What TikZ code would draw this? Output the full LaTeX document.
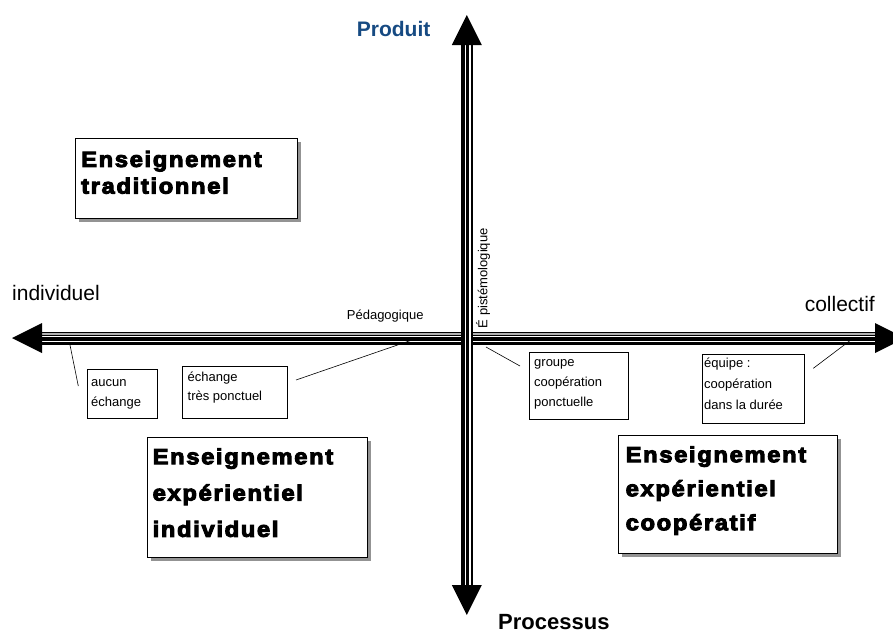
\documentclass[tikz,border=0pt]{standalone}
\usepackage{fontspec}
\setmainfont{Liberation Sans}
\newfontfamily\heavyfont[FakeBold=4.5,FakeStretch=1.08,LetterSpace=7.5]{Liberation Sans Bold}
\usetikzlibrary{shadows}
\definecolor{prodblue}{RGB}{22,74,130}
\begin{document}
\begin{tikzpicture}[x=1pt,y=-1pt,
  bigbox/.style={draw=black, line width=0.9pt, fill=white, anchor=north west, inner sep=0pt,
    drop shadow={shadow xshift=4pt, shadow yshift=-4pt, fill=gray!85, opacity=1}},
  smallbox/.style={draw=black, line width=0.7pt, anchor=north west, inner sep=0pt},
  heavytext/.style={anchor=north west, inner sep=0pt, align=left},
  smalltext/.style={anchor=north west, inner sep=0pt, align=left},
  axislabel/.style={inner sep=0pt, font=\fontsize{21}{25}\selectfont},
  leader/.style={line width=0.6pt}]
\useasboundingbox (0,0) rectangle (893,633);
\clip (0,0) rectangle (893,633);

% axis end points
\coordinate (vtop) at (466.8,45);
\coordinate (vbot) at (466.8,585);
\coordinate (hleft) at (42,338);
\coordinate (hright) at (875,338);

% horizontal shaft
\fill[black] (42,332) rectangle (875,344.5);
\fill[gray!60] (42,333.3) rectangle (875,335.2);
\draw[white, line width=1.2pt] (42,336.6) -- (875,336.6);
\draw[white, line width=1.1pt] (42,341.3) -- (875,341.3);
\fill[black] (hleft) ++(0,-15) -- ++(0,30) -- ++(-30,-15) -- cycle;
\fill[black] (hright) ++(0,-15) -- ++(0,30) -- ++(30,-15) -- cycle;

% vertical shaft
\fill[black] (461,45) rectangle (472.5,585);
\draw[white, line width=1.2pt] (465.3,45) -- (465.3,585);
\draw[white, line width=1.2pt] (469.9,45) -- (469.9,585);
\fill[black] (vtop) ++(-15,0) -- ++(30,0) -- ++(-15,-30) -- cycle;
\fill[black] (vbot) ++(-15,0) -- ++(30,0) -- ++(-15,30) -- cycle;

% axis labels
\node[inner sep=0pt, anchor=base west, font=\bfseries\fontsize{21}{25}\selectfont, text=prodblue] (produit) at (356.7,36.7) {Produit};
\node[inner sep=0pt, anchor=base west, font=\bfseries\fontsize{22}{26}\selectfont] (processus) at (498,629.5) {Processus};
\node[axislabel, anchor=base west] (indiv) at (12,300.7) {individuel};
\node[axislabel, anchor=base east] (collec) at (875,311.7) {collectif};
\node[inner sep=0pt, anchor=base west, font=\fontsize{13}{15}\selectfont] (peda) at (346.7,319.3) {Pédagogique};
\node[inner sep=0pt, anchor=base west, rotate=90, font=\fontsize{13}{15}\selectfont] (episte) at (487.3,328.3) {É pistémologique};

% big boxes
\node[bigbox, minimum width=222pt, minimum height=80pt] (box1) at (75,138) {};
\node[heavytext, font=\heavyfont\fontsize{22}{26.7}\selectfont] (txt1) at (81,146.7)
  {\rule{0pt}{20pt}Enseignement\\traditionnel};
\node[bigbox, minimum width=220pt, minimum height=120pt] (box2) at (147,437) {};
\node[heavytext, font=\heavyfont\fontsize{22}{36.3}\selectfont] (txt2) at (152.5,444)
  {\rule{0pt}{20pt}Enseignement\\expérientiel\\individuel};
\node[bigbox, minimum width=219pt, minimum height=118pt] (box3) at (618,435) {};
\node[heavytext, font=\heavyfont\fontsize{22}{34}\selectfont] (txt3) at (625.5,442)
  {\rule{0pt}{20pt}Enseignement\\expérientiel\\coopératif};

% small boxes
\node[smallbox, minimum width=70pt, minimum height=49pt] (sb1) at (87,369) {};
\node[smalltext, font=\fontsize{13}{20}\selectfont] (st1) at (91,370.7) {\rule{0pt}{16pt}aucun\\échange};
\node[smallbox, minimum width=105pt, minimum height=52pt] (sb2) at (182,366) {};
\node[smalltext, font=\fontsize{13}{18.5}\selectfont] (st2) at (187.5,365.7) {\rule{0pt}{16pt}échange\\très ponctuel};
\node[smallbox, minimum width=99pt, minimum height=67pt] (sb3) at (529,352) {};
\node[smalltext, font=\fontsize{13}{19.7}\selectfont] (st3) at (534,350.5) {\rule{0pt}{16pt}groupe\\coopération\\ponctuelle};
\node[smallbox, minimum width=102pt, minimum height=69pt] (sb4) at (702,354) {};
\node[smalltext, font=\fontsize{13}{21}\selectfont] (st4) at (704,351.3) {\rule{0pt}{16pt}équipe :\\coopération\\dans la durée};

% leader lines
\coordinate (c1a) at (70,345);   \coordinate (c1b) at (78.3,386);
\coordinate (c2a) at (296,380);  \coordinate (c2b) at (412,340);
\coordinate (c3a) at (486,347);  \coordinate (c3b) at (520,366);
\coordinate (c4a) at (813.3,368.3); \coordinate (c4b) at (851.7,339.3);
\draw[leader] (c1a) -- (c1b);
\draw[leader] (c2a) -- (c2b);
\draw[leader] (c3a) -- (c3b);
\draw[leader] (c4a) -- (c4b);
\end{tikzpicture}
\end{document}
